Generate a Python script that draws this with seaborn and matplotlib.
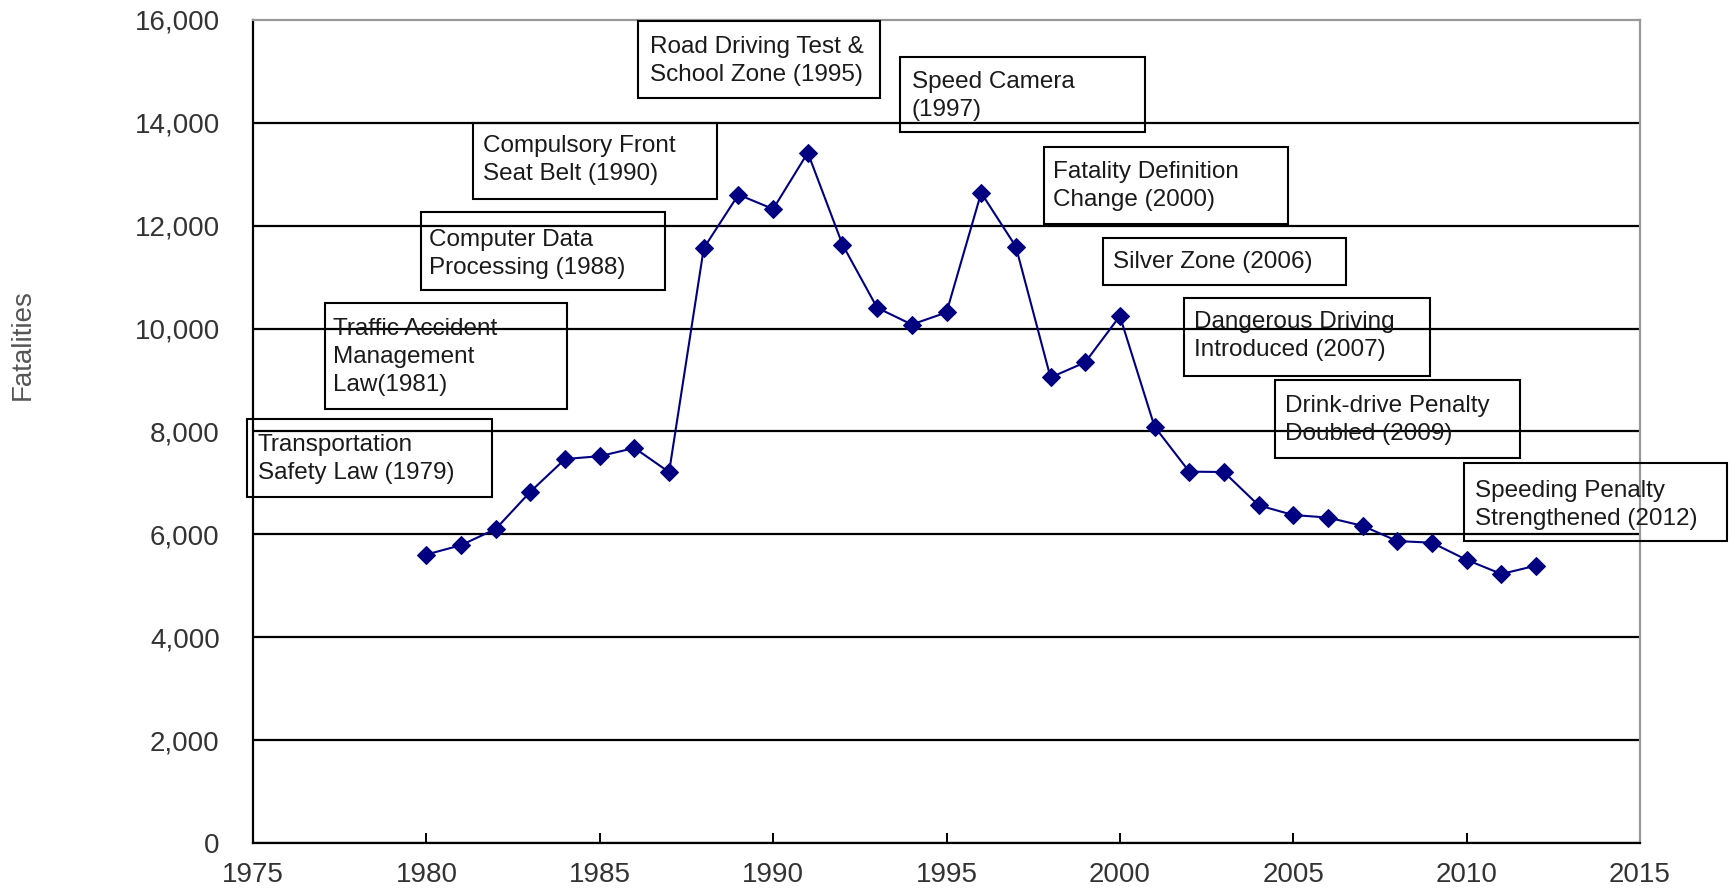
import matplotlib
matplotlib.use("Agg")
import matplotlib.pyplot as plt
import seaborn as sns
import pandas as pd
from matplotlib.patches import Rectangle

# ---- data ----
years = list(range(1980, 2013))
fatalities = [5608, 5790, 6105, 6830, 7465, 7520, 7680, 7210, 11565, 12605,
              12325, 13420, 11635, 10405, 10080, 10315, 12640, 11595, 9050, 9345,
              10245, 8095, 7220, 7212, 6565, 6376, 6327, 6166, 5870, 5838,
              5505, 5230, 5392]
x_ticks = [1975, 1980, 1985, 1990, 1995, 2000, 2005, 2010, 2015]
y_ticks = [0, 2000, 4000, 6000, 8000, 10000, 12000, 14000, 16000]
y_label = "Fatalities"
notes = ["Transportation\nSafety Law (1979)",
         "Traffic Accident\nManagement\nLaw(1981)",
         "Computer Data\nProcessing (1988)",
         "Compulsory Front\nSeat Belt (1990)",
         "Road Driving Test &\nSchool Zone (1995)",
         "Speed Camera\n(1997)",
         "Fatality Definition\nChange (2000)",
         "Silver Zone (2006)",
         "Dangerous Driving\nIntroduced (2007)",
         "Drink-drive Penalty\nDoubled (2009)",
         "Speeding Penalty\nStrengthened (2012)"]

# ---- layout (figure pixels) ----
W, H = 1733, 889
note_boxes = [(247, 419, 492, 497), (325, 303, 567, 409), (421, 212, 665, 290),
              (473, 123, 717, 199), (638, 21, 880, 98), (900, 57, 1145, 132),
              (1044, 147, 1288, 224), (1103, 238, 1346, 285), (1184, 298, 1430, 376),
              (1275, 380, 1520, 458), (1464, 463, 1727, 541)]
note_text_pos = [(258, 459), (333, 357), (429, 254), (483, 160), (650, 61),
                 (912, 96), (1053, 186), (1113, 262), (1194, 336), (1285, 420),
                 (1475, 505)]

sns.set_style("white")
plt.rcParams['font.family'] = ['Liberation Sans', 'DejaVu Sans']

df = pd.DataFrame({"Year": years, "Fatalities": fatalities})

fig = plt.figure(figsize=(W / 100, H / 100), dpi=100)
ax = fig.add_axes([253 / W, 1 - 843 / H, (1640 - 253) / W, (843 - 20) / H])

sns.lineplot(data=df, x="Year", y="Fatalities", ax=ax, color="#000080",
             marker="D", markersize=9, markeredgecolor="#000080",
             linewidth=1.5, zorder=5)

ax.set_xlim(x_ticks[0], x_ticks[-1])
ax.set_ylim(y_ticks[0], y_ticks[-1])
ax.set_xticks(x_ticks)
ax.set_yticks(y_ticks)
ax.set_yticklabels([f"{v:,}" for v in y_ticks])
ax.set_xlabel("")
ax.set_ylabel("")

ax.yaxis.grid(True, color="black", linewidth=1.6)
ax.xaxis.grid(False)
ax.get_ygridlines()[-1].set_visible(False)

for side in ["left", "bottom"]:
    ax.spines[side].set_color("black")
    ax.spines[side].set_linewidth(1.6)
for side in ["top", "right"]:
    ax.spines[side].set_color("#999999")
    ax.spines[side].set_linewidth(1.6)

ax.tick_params(axis="x", direction="in", length=7, width=1.4, color="black",
               labelsize=20, labelcolor="#333333", pad=14, bottom=True)
ax.tick_params(axis="y", direction="in", length=6, width=1.4, color="black",
               labelsize=20, labelcolor="#333333", pad=24, left=True)

fig.text(23 / W, 1 - 345 / H, y_label, rotation=90, ha="center", va="center",
         fontsize=20, color="#555555")

for (x0, y0, x1, y1), (tx, ty), label in zip(note_boxes, note_text_pos, notes):
    fig.add_artist(Rectangle((x0 / W, 1 - y1 / H), (x1 - x0) / W, (y1 - y0) / H,
                             transform=fig.transFigure, fill=False,
                             edgecolor="black", linewidth=1.5, zorder=6))
    fig.text(tx / W, 1 - ty / H, label, ha="left", va="center", fontsize=17.5,
             color="#1a1a1a", linespacing=1.38, zorder=7)

fig.savefig("out.png", dpi=100, facecolor="white")
